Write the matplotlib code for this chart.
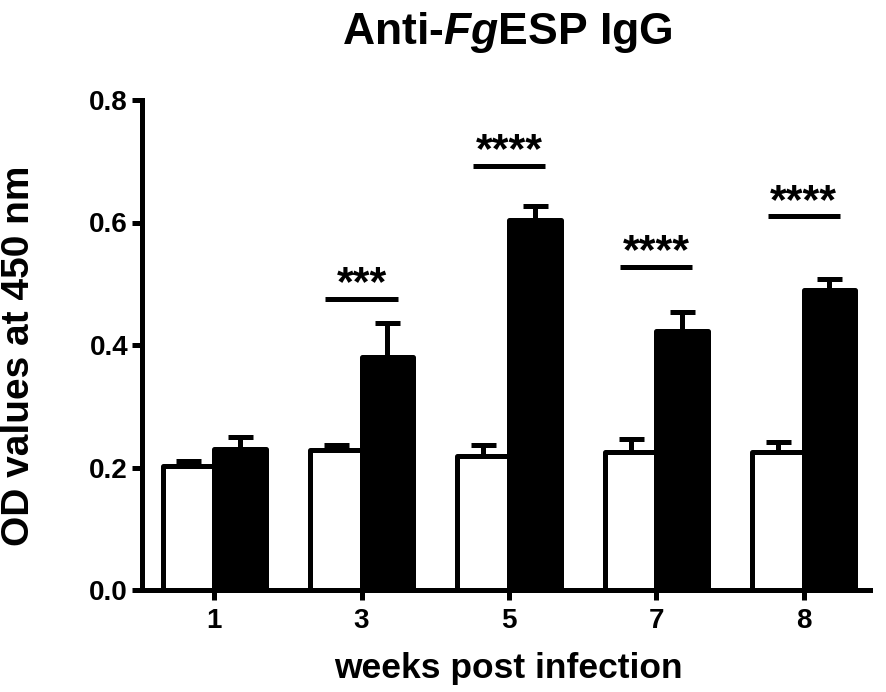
import matplotlib
matplotlib.use("Agg")
import matplotlib.pyplot as plt
import numpy as np

plt.rcParams['font.family'] = ['Liberation Sans', 'DejaVu Sans']
plt.rcParams['font.weight'] = 'bold'
plt.rcParams['mathtext.fontset'] = 'custom'
plt.rcParams['mathtext.it'] = 'Liberation Sans:italic:bold'
plt.rcParams['mathtext.rm'] = 'Liberation Sans:bold'

weeks = ["1", "3", "5", "7", "8"]
control_mean = [0.202, 0.229, 0.219, 0.226, 0.226]
control_err = [0.008, 0.008, 0.018, 0.021, 0.015]
infected_mean = [0.230, 0.381, 0.604, 0.423, 0.489]
infected_err = [0.019, 0.055, 0.023, 0.031, 0.019]
sig_labels = ["", "***", "****", "****", "****"]
sig_heights = [None, 0.475, 0.693, 0.527, 0.610]

fig = plt.figure(figsize=(8.86, 6.92), dpi=100)
ax = fig.add_axes([142/886, 1 - 590/692, (870-142)/886, (590-100)/692])

x = np.arange(len(weeks))
w = 0.35
lw = 3.6

ax.bar(x - w/2, control_mean, width=w, color='white', edgecolor='black',
       linewidth=lw, zorder=2, joinstyle='round')
ax.bar(x + w/2, infected_mean, width=w, color='black', edgecolor='black',
       linewidth=lw, zorder=2, joinstyle='round')
ax.errorbar(x - w/2, control_mean, yerr=[np.zeros(5), control_err], fmt='none',
            ecolor='black', elinewidth=lw, capsize=9, capthick=lw, zorder=3)
ax.errorbar(x + w/2, infected_mean, yerr=[np.zeros(5), infected_err], fmt='none',
            ecolor='black', elinewidth=lw, capsize=9, capthick=lw, zorder=3)

for xi, lab, h in zip(x, sig_labels, sig_heights):
    if h is None:
        continue
    ax.plot([xi - 0.245, xi + 0.245], [h, h], color='black', linewidth=lw,
            solid_capstyle='butt')
    ax.text(xi, h + 0.006, lab, ha='center', va='baseline', fontsize=31,
            fontweight='bold')

ax.set_xlim(-0.49, 4.45)
ax.set_ylim(0, 0.8)
ax.set_yticks([0.0, 0.2, 0.4, 0.6, 0.8])
ax.set_yticklabels(["0.0", "0.2", "0.4", "0.6", "0.8"])
ax.set_xticks(x)
ax.set_xticklabels(weeks)

for s in ['top', 'right']:
    ax.spines[s].set_visible(False)
for s in ['left', 'bottom']:
    ax.spines[s].set_linewidth(lw)
    ax.spines[s].set_capstyle('projecting')

ax.tick_params(axis='both', direction='out', length=7, width=lw,
               labelsize=20)
ax.tick_params(axis='y', pad=3)
ax.tick_params(axis='x', pad=6)
for t in ax.get_xticklabels() + ax.get_yticklabels():
    t.set_fontweight('bold')

fig.text(19/886, 1 - 356/692, "OD values at 450 nm", rotation=90,
         ha='center', va='center', fontsize=28, fontweight='bold')
fig.text(508/886, 14/692, "weeks post infection", ha='center', va='baseline',
         fontsize=25.5, fontweight='bold')
fig.text(507/886, 1 - 44/692, r"Anti-$\mathit{Fg}$ESP IgG", ha='center',
         va='baseline', fontsize=32, fontweight='bold')

fig.savefig("out.png", dpi=100)
